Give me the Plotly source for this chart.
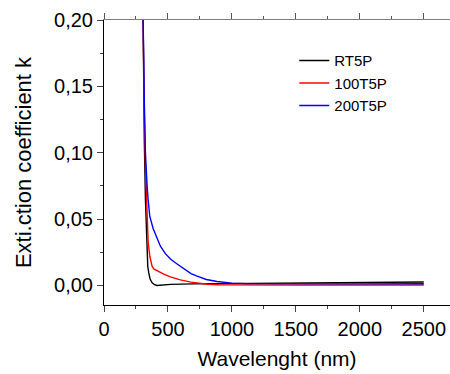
import plotly.graph_objects as go

# RT5P (black)
wl_rt = [300, 305, 315, 324, 332, 342, 350, 360, 375, 395, 415, 450, 520, 700, 1000, 1500, 2000, 2500]
k_rt = [0.26, 0.19, 0.11, 0.0647, 0.0396, 0.0145, 0.0095, 0.005, 0.0022, 0.0006, 0.0, 0.0002, 0.0008, 0.0012, 0.0015, 0.0018, 0.0022, 0.0026]

# 100T5P (red)
wl_100 = [300, 305, 315, 324, 332, 337, 345, 358, 363, 376, 389, 415, 467, 519, 597, 680, 754, 806, 900, 1000, 1500, 2000, 2500]
k_100 = [0.24, 0.19, 0.13, 0.09, 0.0647, 0.045, 0.033, 0.022, 0.0195, 0.0145, 0.0125, 0.011, 0.0085, 0.0065, 0.0042, 0.0025, 0.0015, 0.0009, 0.0006, 0.0005, 0.0004, 0.0004, 0.0004]

# 200T5P (blue)
wl_200 = [300, 306, 315, 324, 332, 337, 345, 358, 384, 402, 441, 480, 520, 558, 611, 680, 728, 800, 884, 1000, 1119, 1500, 2000, 2500]
k_200 = [0.24, 0.19, 0.14, 0.10, 0.08, 0.0747, 0.0647, 0.052, 0.043, 0.039, 0.0296, 0.024, 0.020, 0.0171, 0.0135, 0.009, 0.007, 0.0045, 0.0030, 0.0018, 0.0014, 0.0012, 0.0012, 0.0013]

x_ticks = [0, 500, 1000, 1500, 2000, 2500]
y_ticks = [0.0, 0.05, 0.10, 0.15, 0.20]

FONT = "Liberation Sans, Arial, sans-serif"

fig = go.Figure()
fig.add_trace(go.Scatter(x=wl_rt, y=k_rt, mode="lines", name="RT5P",
                         line=dict(color="black", width=1.4)))
fig.add_trace(go.Scatter(x=wl_100, y=k_100, mode="lines", name="100T5P",
                         line=dict(color="red", width=1.4)))
fig.add_trace(go.Scatter(x=wl_200, y=k_200, mode="lines", name="200T5P",
                         line=dict(color="blue", width=1.4)))

xr = [0, 2705]
fig.update_layout(
    width=450, height=374,
    margin=dict(l=103.5, r=0, t=20, b=68.5),
    paper_bgcolor="white", plot_bgcolor="white",
    separators=",.",
    font=dict(family=FONT, size=20, color="black"),
    showlegend=True,
    legend=dict(x=0.55, y=0.915, xanchor="left", yanchor="top",
                bgcolor="rgba(0,0,0,0)", font=dict(size=15), tracegroupgap=0),
    xaxis=dict(range=xr, tickvals=x_ticks, ticks="outside", ticklen=6, tickwidth=1,
               showline=True, linecolor="black", linewidth=1, showgrid=False, zeroline=False,
               minor=dict(ticks="outside", dtick=250, ticklen=3, tickwidth=1, showgrid=False),
               title=dict(text="Wavelenght (nm)", font=dict(size=21), standoff=12),
               tickfont=dict(size=20)),
    xaxis2=dict(range=xr, overlaying="x", side="top", tickvals=x_ticks, ticks="outside",
                ticklen=6, tickwidth=1, tickcolor="#555", showticklabels=False,
                showline=True, linecolor="#808080", linewidth=1, showgrid=False, zeroline=False,
                minor=dict(ticks="outside", dtick=250, ticklen=3, tickwidth=1, tickcolor="#555", showgrid=False)),
    yaxis=dict(range=[-0.0147, 0.2], tickvals=y_ticks, tickformat=".2f", ticks="outside",
               ticklen=6, tickwidth=1, showline=True, linecolor="black", linewidth=1,
               showgrid=False, zeroline=False,
               minor=dict(ticks="outside", dtick=0.025, tick0=0, ticklen=3, tickwidth=1, showgrid=False),
               title=dict(text="Exti.ction coefficient k", font=dict(size=22), standoff=16),
               tickfont=dict(size=20)),
)
fig.add_trace(go.Scatter(x=[None], y=[None], xaxis="x2", showlegend=False, hoverinfo="skip"))

fig.write_html("out.html")
